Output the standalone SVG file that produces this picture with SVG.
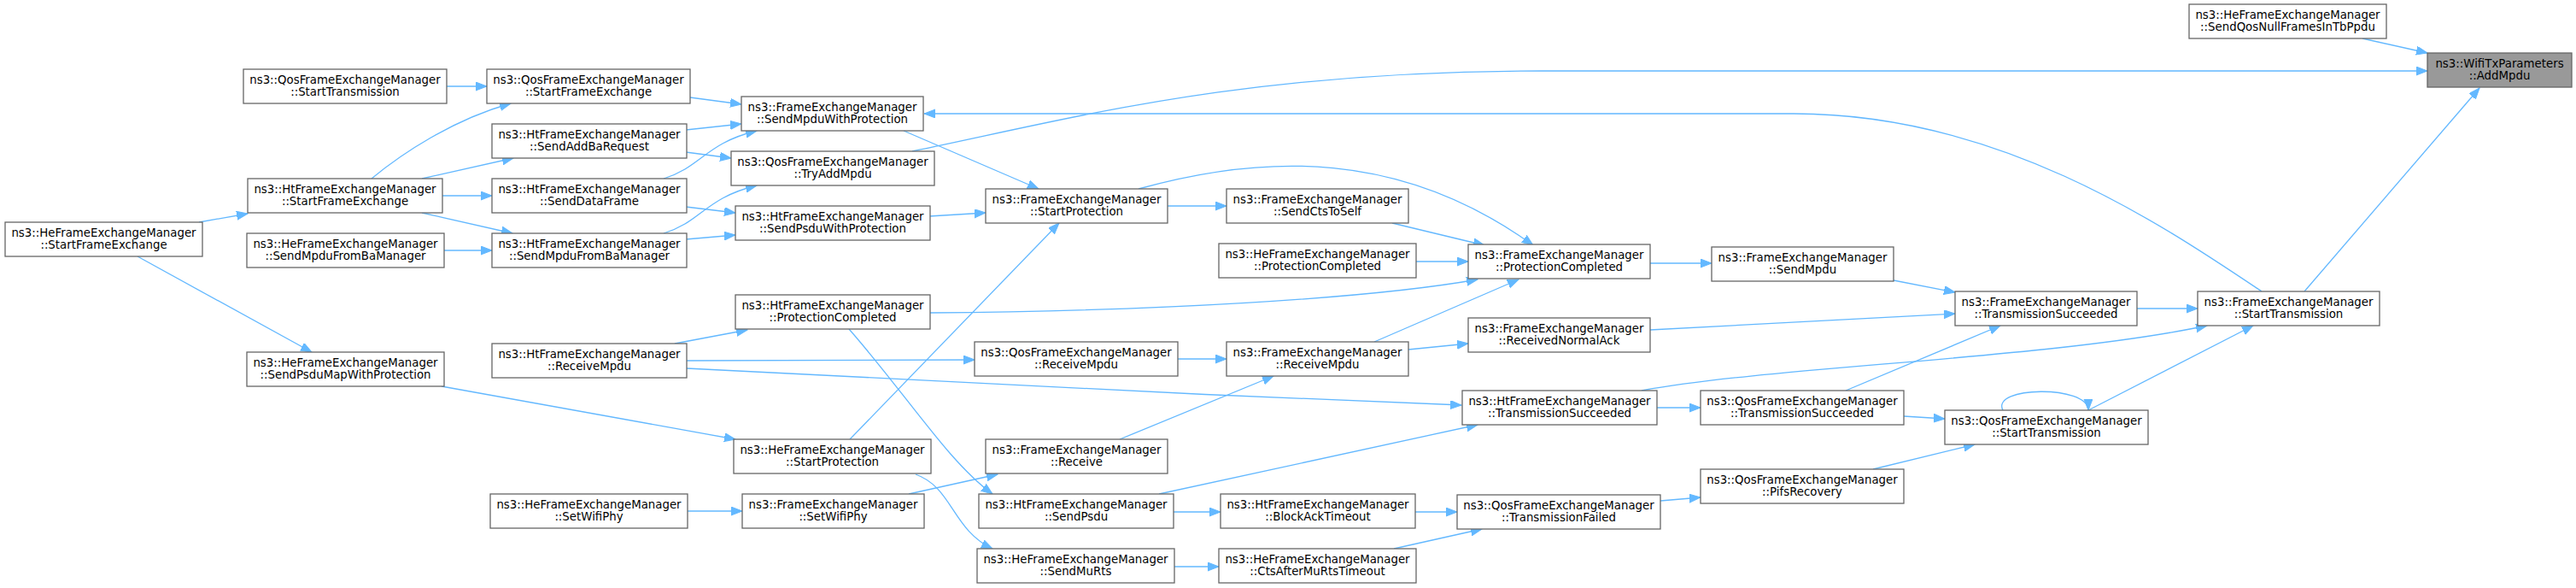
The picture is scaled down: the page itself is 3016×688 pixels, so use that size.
<svg xmlns="http://www.w3.org/2000/svg" width="3016" height="688" viewBox="0 0 3016 688">
<defs>
<style>
.node rect{fill:#ffffff;stroke:#666666;stroke-width:1.3}
.node.hl rect{fill:#999999}
.node text{font-family:"DejaVu Sans","Liberation Sans",sans-serif;font-size:13.33px;text-anchor:middle;fill:#000000}
.edges path{fill:none;stroke:#63b8ff;stroke-width:1.3;marker-end:url(#arr)}
</style>
<marker id="arr" markerUnits="userSpaceOnUse" markerWidth="14" markerHeight="11" refX="13" refY="5" orient="auto">
<path d="M0,0 L13,5 L0,10 z" fill="#63b8ff" stroke="#63b8ff" stroke-width="1"/>
</marker>
</defs>
<rect width="3016" height="688" fill="#ffffff"/>
<g id="connectors" class="edges">
<path d="M523,101 L570,101"/>
<path d="M435,209 C470,180 530,140 598,121"/>
<path d="M494,209 L601,185"/>
<path d="M517,229 L576,229"/>
<path d="M494,249 L600,273"/>
<path d="M233,260 L290,250"/>
<path d="M161,300 L365,412"/>
<path d="M519,293 L576,293"/>
<path d="M808,114 L868,122"/>
<path d="M803,152 L868,145"/>
<path d="M803,178 L856,185"/>
<path d="M777,209 C822,195 825,168 886,153"/>
<path d="M803,242 L861,249"/>
<path d="M777,273 C822,259 825,232 886,217"/>
<path d="M803,280 L861,275"/>
<path d="M1058,153 L1216,221"/>
<path d="M1088,253 L1154,249"/>
<path d="M1366,241 L1436,241"/>
<path d="M1333,221 C1480,180 1640,175 1795,287"/>
<path d="M1630,261 L1738,287"/>
<path d="M1658,306 L1719,306"/>
<path d="M1088,366 C1350,364 1600,350 1730,327"/>
<path d="M1609,400 L1778,327"/>
<path d="M1649,409 L1719,402"/>
<path d="M1932,308 L2004,308"/>
<path d="M2217,328 L2289,342"/>
<path d="M1932,386 L2289,367"/>
<path d="M2161,457 L2342,381"/>
<path d="M1922,457 C2080,428 2400,420 2584,381"/>
<path d="M1939,477 L1991,477"/>
<path d="M2229,487 L2277,490"/>
<path d="M2193,549 L2312,520"/>
<path d="M1944,586 L1991,582"/>
<path d="M1656,599 L1706,599"/>
<path d="M1632,642 L1735,619"/>
<path d="M1374,599 L1429,599"/>
<path d="M1375,663 L1427,663"/>
<path d="M2502,361 L2573,361"/>
<path d="M2445,480 L2638,381"/>
<path d="M2345,480 C2330,452 2445,450 2445,480"/>
<path d="M2698,341 L2903,103"/>
<path d="M2648,341 C2530,262 2340,133 2100,133 L1082,133"/>
<path d="M1068,177 C1250,140 1450,83 1805,83 L2842,83"/>
<path d="M2766,45 L2842,62"/>
<path d="M1064,578 L1168,555"/>
<path d="M805,598 L869,598"/>
<path d="M1311,514 L1491,440"/>
<path d="M1379,420 L1436,420"/>
<path d="M790,402 L875,386"/>
<path d="M804,422 L1141,421"/>
<path d="M804,431 C1000,443 1400,462 1711,474"/>
<path d="M517,452 L861,514"/>
<path d="M995,514 L1240,261"/>
<path d="M1072,555 C1115,570 1115,620 1162,642"/>
<path d="M994,385 C1060,460 1110,540 1162,578"/>
<path d="M1357,578 L1730,497"/>
</g>
<g id="n1" class="node"><rect x="6" y="260" width="231" height="40"/><text x="121.5" y="276.7">ns3::HeFrameExchangeManager</text><text x="121.5" y="291.3">::StartFrameExchange</text></g>
<g id="n2" class="node"><rect x="285" y="81" width="238" height="40"/><text x="404" y="97.7">ns3::QosFrameExchangeManager</text><text x="404" y="112.3">::StartTransmission</text></g>
<g id="n3" class="node"><rect x="290" y="209" width="228" height="40"/><text x="404" y="225.7">ns3::HtFrameExchangeManager</text><text x="404" y="240.3">::StartFrameExchange</text></g>
<g id="n4" class="node"><rect x="289" y="273" width="231" height="40"/><text x="404.5" y="289.7">ns3::HeFrameExchangeManager</text><text x="404.5" y="304.3">::SendMpduFromBaManager</text></g>
<g id="n5" class="node"><rect x="289" y="412" width="231" height="40"/><text x="404.5" y="428.7">ns3::HeFrameExchangeManager</text><text x="404.5" y="443.3">::SendPsduMapWithProtection</text></g>
<g id="n6" class="node"><rect x="574" y="578" width="231" height="40"/><text x="689.5" y="594.7">ns3::HeFrameExchangeManager</text><text x="689.5" y="609.3">::SetWifiPhy</text></g>
<g id="n7" class="node"><rect x="570" y="81" width="238" height="40"/><text x="689" y="97.7">ns3::QosFrameExchangeManager</text><text x="689" y="112.3">::StartFrameExchange</text></g>
<g id="n8" class="node"><rect x="576" y="145" width="228" height="40"/><text x="690" y="161.7">ns3::HtFrameExchangeManager</text><text x="690" y="176.3">::SendAddBaRequest</text></g>
<g id="n9" class="node"><rect x="576" y="209" width="228" height="40"/><text x="690" y="225.7">ns3::HtFrameExchangeManager</text><text x="690" y="240.3">::SendDataFrame</text></g>
<g id="n10" class="node"><rect x="576" y="273" width="228" height="40"/><text x="690" y="289.7">ns3::HtFrameExchangeManager</text><text x="690" y="304.3">::SendMpduFromBaManager</text></g>
<g id="n11" class="node"><rect x="576" y="402" width="228" height="40"/><text x="690" y="418.7">ns3::HtFrameExchangeManager</text><text x="690" y="433.3">::ReceiveMpdu</text></g>
<g id="n12" class="node"><rect x="868" y="113" width="213" height="40"/><text x="974.5" y="129.7">ns3::FrameExchangeManager</text><text x="974.5" y="144.3">::SendMpduWithProtection</text></g>
<g id="n13" class="node"><rect x="856" y="177" width="238" height="40"/><text x="975" y="193.7">ns3::QosFrameExchangeManager</text><text x="975" y="208.3">::TryAddMpdu</text></g>
<g id="n14" class="node"><rect x="861" y="241" width="228" height="40"/><text x="975" y="257.7">ns3::HtFrameExchangeManager</text><text x="975" y="272.3">::SendPsduWithProtection</text></g>
<g id="n15" class="node"><rect x="861" y="345" width="228" height="40"/><text x="975" y="361.7">ns3::HtFrameExchangeManager</text><text x="975" y="376.3">::ProtectionCompleted</text></g>
<g id="n16" class="node"><rect x="859" y="514" width="231" height="40"/><text x="974.5" y="530.7">ns3::HeFrameExchangeManager</text><text x="974.5" y="545.3">::StartProtection</text></g>
<g id="n17" class="node"><rect x="869" y="578" width="213" height="40"/><text x="975.5" y="594.7">ns3::FrameExchangeManager</text><text x="975.5" y="609.3">::SetWifiPhy</text></g>
<g id="n18" class="node"><rect x="1154" y="221" width="213" height="40"/><text x="1260.5" y="237.7">ns3::FrameExchangeManager</text><text x="1260.5" y="252.3">::StartProtection</text></g>
<g id="n19" class="node"><rect x="1141" y="400" width="238" height="40"/><text x="1260" y="416.7">ns3::QosFrameExchangeManager</text><text x="1260" y="431.3">::ReceiveMpdu</text></g>
<g id="n20" class="node"><rect x="1154" y="514" width="213" height="40"/><text x="1260.5" y="530.7">ns3::FrameExchangeManager</text><text x="1260.5" y="545.3">::Receive</text></g>
<g id="n21" class="node"><rect x="1146" y="578" width="228" height="40"/><text x="1260" y="594.7">ns3::HtFrameExchangeManager</text><text x="1260" y="609.3">::SendPsdu</text></g>
<g id="n22" class="node"><rect x="1144" y="642" width="231" height="40"/><text x="1259.5" y="658.7">ns3::HeFrameExchangeManager</text><text x="1259.5" y="673.3">::SendMuRts</text></g>
<g id="n23" class="node"><rect x="1436" y="221" width="213" height="40"/><text x="1542.5" y="237.7">ns3::FrameExchangeManager</text><text x="1542.5" y="252.3">::SendCtsToSelf</text></g>
<g id="n24" class="node"><rect x="1427" y="285" width="231" height="40"/><text x="1542.5" y="301.7">ns3::HeFrameExchangeManager</text><text x="1542.5" y="316.3">::ProtectionCompleted</text></g>
<g id="n25" class="node"><rect x="1436" y="400" width="213" height="40"/><text x="1542.5" y="416.7">ns3::FrameExchangeManager</text><text x="1542.5" y="431.3">::ReceiveMpdu</text></g>
<g id="n26" class="node"><rect x="1429" y="578" width="228" height="40"/><text x="1543" y="594.7">ns3::HtFrameExchangeManager</text><text x="1543" y="609.3">::BlockAckTimeout</text></g>
<g id="n27" class="node"><rect x="1427" y="642" width="231" height="40"/><text x="1542.5" y="658.7">ns3::HeFrameExchangeManager</text><text x="1542.5" y="673.3">::CtsAfterMuRtsTimeout</text></g>
<g id="n28" class="node"><rect x="1719" y="286" width="213" height="40"/><text x="1825.5" y="302.7">ns3::FrameExchangeManager</text><text x="1825.5" y="317.3">::ProtectionCompleted</text></g>
<g id="n29" class="node"><rect x="1719" y="372" width="213" height="40"/><text x="1825.5" y="388.7">ns3::FrameExchangeManager</text><text x="1825.5" y="403.3">::ReceivedNormalAck</text></g>
<g id="n30" class="node"><rect x="1712" y="457" width="228" height="40"/><text x="1826" y="473.7">ns3::HtFrameExchangeManager</text><text x="1826" y="488.3">::TransmissionSucceeded</text></g>
<g id="n31" class="node"><rect x="1706" y="579" width="238" height="40"/><text x="1825" y="595.7">ns3::QosFrameExchangeManager</text><text x="1825" y="610.3">::TransmissionFailed</text></g>
<g id="n32" class="node"><rect x="2004" y="289" width="213" height="40"/><text x="2110.5" y="305.7">ns3::FrameExchangeManager</text><text x="2110.5" y="320.3">::SendMpdu</text></g>
<g id="n33" class="node"><rect x="1991" y="457" width="238" height="40"/><text x="2110" y="473.7">ns3::QosFrameExchangeManager</text><text x="2110" y="488.3">::TransmissionSucceeded</text></g>
<g id="n34" class="node"><rect x="1991" y="549" width="238" height="40"/><text x="2110" y="565.7">ns3::QosFrameExchangeManager</text><text x="2110" y="580.3">::PifsRecovery</text></g>
<g id="n35" class="node"><rect x="2289" y="341" width="213" height="40"/><text x="2395.5" y="357.7">ns3::FrameExchangeManager</text><text x="2395.5" y="372.3">::TransmissionSucceeded</text></g>
<g id="n36" class="node"><rect x="2277" y="480" width="238" height="40"/><text x="2396" y="496.7">ns3::QosFrameExchangeManager</text><text x="2396" y="511.3">::StartTransmission</text></g>
<g id="n37" class="node"><rect x="2573" y="341" width="213" height="40"/><text x="2679.5" y="357.7">ns3::FrameExchangeManager</text><text x="2679.5" y="372.3">::StartTransmission</text></g>
<g id="n38" class="node"><rect x="2563" y="5" width="231" height="40"/><text x="2678.5" y="21.7">ns3::HeFrameExchangeManager</text><text x="2678.5" y="36.3">::SendQosNullFramesInTbPpdu</text></g>
<g id="n39" class="node hl"><rect x="2842" y="62" width="169" height="40"/><text x="2926.5" y="78.7">ns3::WifiTxParameters</text><text x="2926.5" y="93.3">::AddMpdu</text></g>
</svg>
